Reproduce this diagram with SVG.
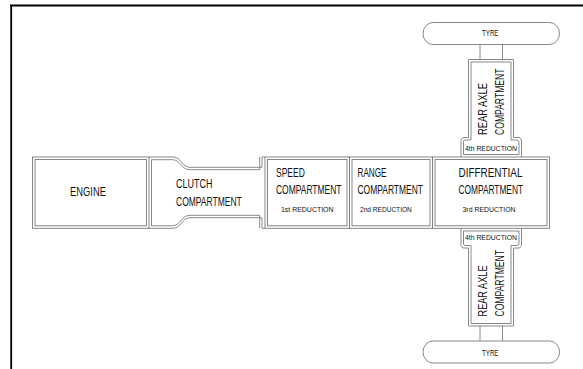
<svg xmlns="http://www.w3.org/2000/svg" width="583" height="369" viewBox="0 0 583 369">
<style>
.ln{fill:none;stroke:#7a7a7a;stroke-width:0.9}
.t{font-family:"Liberation Sans Narrow","Liberation Sans",Arial,sans-serif;font-size:12px;fill:#111}
.s{font-family:"Liberation Sans Narrow","Liberation Sans",Arial,sans-serif;font-size:8px;fill:#111}
.y{font-family:"Liberation Sans Narrow","Liberation Sans",Arial,sans-serif;font-size:8.5px;fill:#111}
</style>
<rect width="583" height="369" fill="#fff"/>
<g id="frame">
<path d="M10,5.5 H583 M11.2,5 V369" fill="none" stroke="#000" stroke-width="1.8"/>
</g>
<g id="engine">
<rect class="ln" x="32.5" y="157" width="116.5" height="71.3"/>
<rect class="ln" x="35" y="159.5" width="111.5" height="66.3"/>
<text class="t" transform="translate(70,196) scale(0.72,1)" textLength="50" lengthAdjust="spacingAndGlyphs">ENGINE</text>
</g>
<g id="clutch">
<path class="ln" d="M149,157 H173 C181,157 182,167.3 190,167.3 H262 V157 H265 M265,228.3 H262 V217.7 H190 C182,217.7 181,228.3 173,228.3 H149"/>
<path class="ln" d="M259.7,157 V169.7 H189.5 C181.5,169.7 180.5,159.7 172.5,159.7 H151.5 V225.8 H172.5 C180.5,225.8 181.5,215.3 189.5,215.3 H259.7 V228.3"/>
<text class="t" transform="translate(176,188.3) scale(0.72,1)" textLength="50.7" lengthAdjust="spacingAndGlyphs">CLUTCH</text>
<text class="t" transform="translate(176,205.7) scale(0.72,1)" textLength="91.25" lengthAdjust="spacingAndGlyphs">COMPARTMENT</text>
</g>
<g id="speed">
<rect class="ln" x="265" y="157" width="84.5" height="71.3"/>
<rect class="ln" x="267.5" y="159.5" width="79.5" height="66.3"/>
<text class="t" transform="translate(276,177) scale(0.72,1)" textLength="40" lengthAdjust="spacingAndGlyphs">SPEED</text>
<text class="t" transform="translate(276,193.5) scale(0.72,1)" textLength="91" lengthAdjust="spacingAndGlyphs">COMPARTMENT</text>
<text class="s" x="281" y="212" textLength="52.5" lengthAdjust="spacingAndGlyphs">1st REDUCTION</text>
</g>
<g id="range">
<rect class="ln" x="349.5" y="157" width="83" height="71.3"/>
<rect class="ln" x="352" y="159.5" width="78" height="66.3"/>
<text class="t" transform="translate(357.5,177) scale(0.72,1)" textLength="40.3" lengthAdjust="spacingAndGlyphs">RANGE</text>
<text class="t" transform="translate(357.5,193.5) scale(0.72,1)" textLength="91" lengthAdjust="spacingAndGlyphs">COMPARTMENT</text>
<text class="s" x="360" y="212" textLength="51.8" lengthAdjust="spacingAndGlyphs">2nd REDUCTION</text>
</g>
<g id="differential">
<rect class="ln" x="432.5" y="157" width="117" height="71.3"/>
<rect class="ln" x="435" y="159.5" width="112" height="66.3"/>
<text class="t" transform="translate(458.5,177) scale(0.72,1)" textLength="88.9" lengthAdjust="spacingAndGlyphs">DIFFRENTIAL</text>
<text class="t" transform="translate(458.5,193.5) scale(0.72,1)" textLength="89.6" lengthAdjust="spacingAndGlyphs">COMPARTMENT</text>
<text class="s" x="462.5" y="212" textLength="53" lengthAdjust="spacingAndGlyphs">3rd REDUCTION</text>
</g>
<g id="rear-axle-top">
<path class="ln" d="M461,157 V140 L463,137.5 H468.5 V59.5 H513.5 V137.5 H519.5 L521.5,140 V157"/>
<path class="ln" d="M463.5,154.5 V141 L465,140 H471 V62 H511 V140 H517 L519,141.5 V154.5 Z"/>
<text class="s" x="465" y="151" textLength="52" lengthAdjust="spacingAndGlyphs">4th REDUCTION</text>
<text class="t" transform="translate(486.5,135) rotate(-90)" textLength="52" lengthAdjust="spacingAndGlyphs">REAR AXLE</text>
<text class="t" transform="translate(504,135) rotate(-90)" textLength="66.5" lengthAdjust="spacingAndGlyphs">COMPARTMENT</text>
</g>
<g id="rear-axle-bottom">
<path class="ln" d="M461,228.5 V245.5 L463,248 H468.5 V326 H513.5 V248 H519.5 L521.5,245.5 V228.5"/>
<path class="ln" d="M463.5,231 V244.5 L465,245.5 H471 V323.5 H511 V245.5 H517 L519,244 V231 Z"/>
<text class="s" x="465" y="240" textLength="52" lengthAdjust="spacingAndGlyphs">4th REDUCTION</text>
<text class="t" transform="translate(486.5,316.5) rotate(-90)" textLength="51" lengthAdjust="spacingAndGlyphs">REAR AXLE</text>
<text class="t" transform="translate(504,316.5) rotate(-90)" textLength="66.5" lengthAdjust="spacingAndGlyphs">COMPARTMENT</text>
</g>
<g id="tyre-top">
<rect class="ln" x="423" y="22.5" width="136.5" height="22" rx="10" ry="11"/>
<text class="y" x="482" y="36" textLength="16.5" lengthAdjust="spacingAndGlyphs">TYRE</text>
</g>
<g id="tyre-bottom">
<rect class="ln" x="423" y="341" width="136.5" height="22" rx="10" ry="11"/>
<text class="y" x="482" y="356" textLength="16.5" lengthAdjust="spacingAndGlyphs">TYRE</text>
</g>
<g id="connectors">
<path class="ln" d="M480,44.5 V59.5 M502.5,44.5 V59.5 M480,326 V341 M502.5,326 V341"/>
</g>
</svg>
